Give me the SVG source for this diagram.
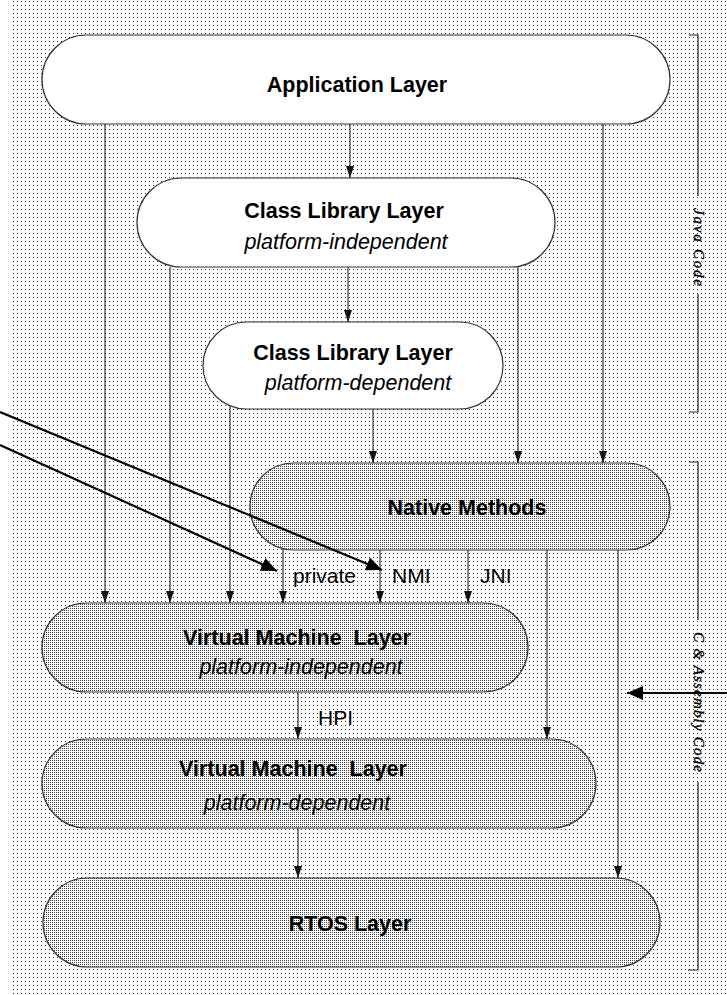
<svg xmlns="http://www.w3.org/2000/svg" width="727" height="995" viewBox="0 0 727 995">
  <style>
    .pill { stroke: #333; stroke-width: 1.2; }
    .white { fill: #fff; }
    .gray { fill: url(#halftone); }
    .title { font-family: "Liberation Sans", Arial, sans-serif; font-weight: bold; font-size: 21.5px; fill: #000; text-anchor: middle; }
    .sub { font-family: "Liberation Sans", Arial, sans-serif; font-style: italic; font-size: 21.5px; fill: #000; text-anchor: middle; }
    .lbl { font-family: "Liberation Sans", Arial, sans-serif; font-size: 21px; fill: #000; }
    .side { font-family: "Liberation Serif", "Times New Roman", serif; font-style: italic; font-size: 15px; fill: #000; stroke: #000; stroke-width: 0.35; text-anchor: middle; }
    .flow { stroke: #222; stroke-width: 1.1; fill: none; marker-end: url(#tip); }
    .call { stroke: #000; stroke-width: 2.2; fill: none; marker-end: url(#bigTip); }
    .bracket { stroke: #222; stroke-width: 1.2; fill: none; }
  </style>
  <defs>
    <pattern id="bgDots" width="4" height="4" patternUnits="userSpaceOnUse">
      <rect width="4" height="4" fill="#fff"/>
      <rect x="1" y="1" width="1" height="1" fill="#333"/>
    </pattern>
    <pattern id="halftone" width="2" height="2" patternUnits="userSpaceOnUse">
      <rect width="2" height="2" fill="#fff"/>
      <rect x="0" y="0" width="1" height="1" fill="#444"/>
    </pattern>
    <marker id="tip" markerUnits="userSpaceOnUse" markerWidth="12" markerHeight="8" refX="12" refY="4" orient="auto">
      <path d="M0,0 L12,4 L0,8 z" fill="#111"/>
    </marker>
    <marker id="bigTip" markerUnits="userSpaceOnUse" markerWidth="16" markerHeight="14" refX="16" refY="7" orient="auto">
      <path d="M0,0 L16,7 L0,14 z" fill="#000"/>
    </marker>
  </defs>

  <!-- stippled page background -->
  <rect x="0" y="0" width="727" height="995" fill="#fff"/>
  <rect x="11" y="0" width="716" height="995" fill="url(#bgDots)" shape-rendering="crispEdges"/>

  <!-- layers -->
  <g id="application-layer">
    <rect class="pill white" x="42" y="35" width="628" height="89" rx="44.5"/>
    <text class="title" x="357" y="92">Application Layer</text>
  </g>

  <g id="class-library-independent">
    <rect class="pill white" x="137" y="178" width="418" height="89" rx="44.5"/>
    <text class="title" x="344" y="218">Class Library Layer</text>
    <text class="sub" x="346" y="249">platform-independent</text>
  </g>

  <g id="class-library-dependent">
    <rect class="pill white" x="203" y="322" width="300" height="87" rx="43.5"/>
    <text class="title" x="353" y="360">Class Library Layer</text>
    <text class="sub" x="358" y="390">platform-dependent</text>
  </g>

  <g id="native-methods">
    <rect class="pill gray" x="250" y="463" width="420" height="87" rx="43.5"/>
    <text class="title" x="467" y="515">Native Methods</text>
  </g>

  <g id="vm-independent">
    <rect class="pill gray" x="42" y="603" width="486" height="89" rx="44.5"/>
    <text class="title" x="297" y="645" xml:space="preserve">Virtual Machine  Layer</text>
    <text class="sub" x="301" y="674">platform-independent</text>
  </g>

  <g id="vm-dependent">
    <rect class="pill gray" x="42" y="739" width="554" height="89" rx="44.5"/>
    <text class="title" x="293" y="776" xml:space="preserve">Virtual Machine  Layer</text>
    <text class="sub" x="297" y="810">platform-dependent</text>
  </g>

  <g id="rtos-layer">
    <rect class="pill gray" x="43" y="878" width="617" height="89" rx="44.5"/>
    <text class="title" x="350" y="931">RTOS Layer</text>
  </g>

  <!-- side brackets -->
  <g id="java-code-bracket">
    <path class="bracket" d="M689,35 H698 V196 M698,294 V412 H689"/>
    <text class="side" transform="translate(698,247) rotate(90)" y="4.5" textLength="78" lengthAdjust="spacing">Java Code</text>
  </g>
  <g id="c-assembly-bracket">
    <path class="bracket" d="M689,462 H698 V620 M698,782 V970 H688"/>
    <text class="side" transform="translate(698,702) rotate(90)" y="4.5" textLength="140" lengthAdjust="spacing">C &amp; Assembly Code</text>
  </g>

  <!-- connectors -->
  <g id="connectors">
    <line class="flow" x1="105" y1="124" x2="105" y2="603"/>
    <line class="flow" x1="350" y1="124" x2="350" y2="178"/>
    <line class="flow" x1="603" y1="124" x2="603" y2="463"/>
    <line class="flow" x1="170" y1="267" x2="170" y2="603"/>
    <line class="flow" x1="348" y1="267" x2="348" y2="322"/>
    <line class="flow" x1="518" y1="266" x2="518" y2="463"/>
    <line class="flow" x1="230" y1="406" x2="230" y2="603"/>
    <line class="flow" x1="373" y1="409" x2="373" y2="463"/>
    <line class="flow" x1="283" y1="549" x2="283" y2="603"/>
    <line class="flow" x1="380" y1="550" x2="380" y2="603"/>
    <line class="flow" x1="468" y1="550" x2="468" y2="603"/>
    <line class="flow" x1="547" y1="550" x2="547" y2="739"/>
    <line class="flow" x1="618" y1="550" x2="618" y2="878"/>
    <line class="flow" x1="298" y1="692" x2="298" y2="739"/>
    <line class="flow" x1="298" y1="828" x2="298" y2="878"/>

    <line class="call" x1="0" y1="412" x2="382" y2="570"/>
    <line class="call" x1="0" y1="445" x2="277" y2="571"/>
    <line class="call" x1="727" y1="693" x2="627" y2="693"/>

    <text class="lbl" x="293" y="583">private</text>
    <text class="lbl" x="392" y="583">NMI</text>
    <text class="lbl" x="480" y="583">JNI</text>
    <text class="lbl" x="318" y="725">HPI</text>
  </g>
</svg>
